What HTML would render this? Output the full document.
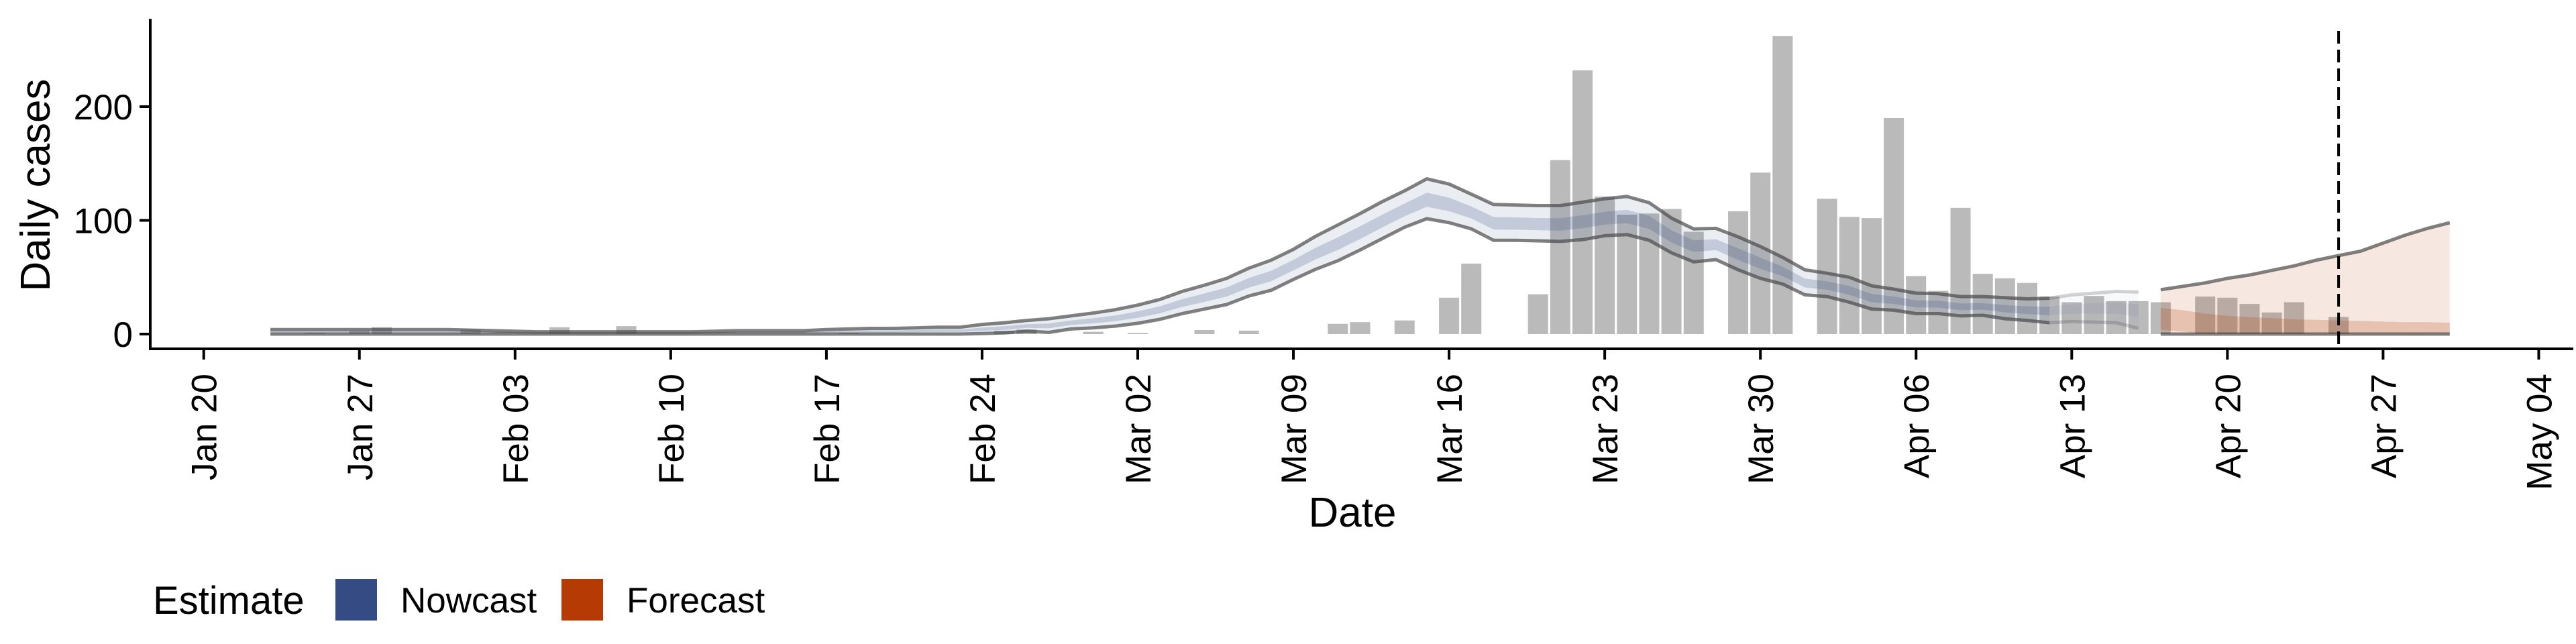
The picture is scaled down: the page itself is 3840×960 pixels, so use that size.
<!DOCTYPE html>
<html><head><meta charset="utf-8"><style>
html,body{margin:0;padding:0;background:#fff;}
svg{display:block;font-family:"Liberation Sans",sans-serif;}
</style></head><body>
<svg id="chart" width="3840" height="960" viewBox="0 0 3840 960" xmlns="http://www.w3.org/2000/svg">
<g id="bars"></g>
<g id="nowcast"></g>
<g id="forecast"></g>
<g id="axes"></g>
<text x="0" y="0" transform="translate(74,276) rotate(-90)" text-anchor="middle" font-size="62">Daily cases</text>
<text x="2016" y="785" text-anchor="middle" font-size="62">Date</text>
<g>
<text x="228" y="915" font-size="58">Estimate</text>
<rect x="500" y="863" width="62" height="62" fill="#344b84"/>
<text x="597" y="913" font-size="53">Nowcast</text>
<rect x="837" y="863" width="62" height="62" fill="#b53a04"/>
<text x="934" y="913" font-size="53">Forecast</text>
</g>
</svg>
<script>
// ---- data ----
const tickLabels = ["Jan 20","Jan 27","Feb 03","Feb 10","Feb 17","Feb 24","Mar 02","Mar 09","Mar 16","Mar 23","Mar 30","Apr 06","Apr 13","Apr 20","Apr 27","May 04"];
const tickDays = [0,7,14,21,28,35,42,49,56,63,70,77,84,91,98,105];
const yTicks = [0,100,200];
// observed cases: day index (since Jan 20) and count
const barDays = [5,7,8,12,16,19,29,36,37,40,42,45,47,51,52,54,56,57,60,61,62,63,64,65,66,67,69,70,71,73,74,75,76,77,78,79,80,81,82,83,84,85,86,87,88,90,91,92,93,94,96];
const barValues = [1,3,6,4,6,7,1,3,4,2,1,3.5,3,9,10.5,12,32,62,35,153,232,121,105,106,110,90,108,142,262,119,103,102,190,51,38,111,53,49,45,33,28,33.5,29,29,28,33,32,26.5,19,28,15];
// nowcast: days 3..87
const nowStart = 3;
const nowUpper = [4,4,4,4,4,4,4,4,4,3.5,3,2.5,2,2,2,2,2,2,2,2,2.5,3,3,3,3,4,4.5,5,5,5.5,6,6,8.5,10,12,13.5,16,18.5,21.5,25.5,30.5,37.5,43,49,58,65,74.5,86,96,106,116.5,126,136.5,132,123,114,113.5,113,113,116,119,121,115.5,102,92.5,93,85.5,77,67.5,56.5,53.5,50,42.5,39.5,36,35.5,33,33,32,31,31.5,34.5,36,37.5,37];
const nowLower = [0,0,0,0,0,0,0,0,0,0,0,0,0,0,0,0,0,0,0,0,0,0,0,0,0,0,0,0,0,0,0,0,0.5,1,2.5,1.5,4.5,5.5,7,9.5,13,18,22,26,33.5,38.5,48,57,64.5,74,84,94,101.5,98,92.5,82.5,82.5,82,81.5,83,86.5,87.5,82.5,71.5,63.5,65.5,56.5,49,44,34.5,33,28,22,21,18,18,16,16.5,13.5,12,10,11,10.5,10,5];
const nowInnerUpper = [2.6,2.6,2.6,2.6,2.6,2.6,2.6,2.6,2.6,2.3,2,1.6,1.3,1.3,1.3,1.3,1.3,1.3,1.3,1.3,1.6,2,2,2,2,2.6,2.9,3.3,3.3,3.6,3.9,3.9,5.7,6.9,8.7,9.3,12,14,16.4,20,24.4,30.7,35.7,41,49.4,55.7,65.2,75.9,85,94.8,105,114.8,124.3,120,112.3,103,102.6,102,102,104.5,107.6,109.3,104,91.3,82.4,83.4,75.4,67.2,59.3,48.8,46.3,42.3,35.3,33,29.7,29.4,27,27.2,25.5,24.4,24,26.3,27,28,26];
const nowInnerLower = [1.2,1.2,1.2,1.2,1.2,1.2,1.2,1.2,1.2,1,0.9,0.8,0.6,0.6,0.6,0.6,0.6,0.6,0.6,0.6,0.8,0.9,0.9,0.9,0.9,1.2,1.4,1.5,1.5,1.7,1.8,1.8,2.9,3.7,5.4,5.1,8,9.4,11.4,14.3,18.3,23.9,28.3,33,40.9,46.5,56,65.7,74,83.6,93.8,103.6,112,108,101.7,92,91.8,91.3,91,93,96.3,97.6,92.4,80.6,72.2,73.8,65.2,57.4,51,41,39,34.6,28,26.5,23.4,23.3,21,21.5,19,17.7,16.5,18,18,18,15];
const nowFadeFrom = 83;
// forecast: days 88..101
const foreStart = 88;
const foreUpper = [39,42,45,49,52,56,60,65,69,73,80,87,93,98];
const foreLower = [0,0,0,0,0,0,0,0,0,0,0,0,0,0];
const foreInnerUpper = [23,21,18,16,15,14,13,12.5,12,11.5,11,10.5,10.5,10];
const foreInnerLower = [4,2,0.5,0,0,0,0,0,0,0,0,0,0,0];
const dataDateDay = 96;

// ---- scales ----
const X0 = 303.7, PX_DAY = 33.15, Y0 = 498, PX_UNIT = 1.695;
const xs = d => X0 + d * PX_DAY;
const ys = v => Y0 - v * PX_UNIT;
const NS = "http://www.w3.org/2000/svg";
function mk(tag, parent, attrs){const e=document.createElementNS(NS,tag);for(const k in attrs)e.setAttribute(k,attrs[k]);parent.appendChild(e);return e;}

// bars
const gB = document.getElementById('bars');
barDays.forEach((d,i)=>{
  const r = mk('rect', gB, {x: xs(d)-15, y: ys(barValues[i]), width: 30, height: barValues[i]*PX_UNIT, fill:'#bababa'});
  
  
});

function bandPath(start, up, lo, from, to){
  let p=''; for(let i=from;i<=to;i++) p += (i===from?'M':'L') + xs(start+i).toFixed(1)+','+ys(up[i]).toFixed(1);
  for(let i=to;i>=from;i--) p += 'L'+xs(start+i).toFixed(1)+','+ys(lo[i]).toFixed(1);
  return p+'Z';
}
function linePath(start, arr, from, to){
  let p=''; for(let i=from;i<=to;i++) p += (i===from?'M':'L') + xs(start+i).toFixed(1)+','+ys(arr[i]).toFixed(1);
  return p;
}

// nowcast
const gN = document.getElementById('nowcast');
const nLast = nowUpper.length-1, nFade = nowFadeFrom - nowStart;
[[0,nFade,1],[nFade,nLast,0.35]].forEach(([a,b,op])=>{
  const o = mk('path', gN, {d: bandPath(nowStart, nowUpper, nowLower, a, b), fill:'#344b84', 'fill-opacity': 0.1*op});
  
  
  const inr = mk('path', gN, {d: bandPath(nowStart, nowInnerUpper, nowInnerLower, a, b), fill:'#344b84', 'fill-opacity': 0.21*op});
  
  
  [nowUpper, nowLower].forEach(arr=>{
    const l = mk('path', gN, {d: linePath(nowStart, arr, a, b), fill:'none', stroke:'#4a4a4a', 'stroke-opacity': 0.7*op, 'stroke-width': 5, 'stroke-linejoin':'round'});
    
    
  });
});

// forecast
const gF = document.getElementById('forecast');
const fLast = foreUpper.length-1;
const fo = mk('path', gF, {d: bandPath(foreStart, foreUpper, foreLower, 0, fLast), fill:'#b53a04', 'fill-opacity': 0.12});


const fi = mk('path', gF, {d: bandPath(foreStart, foreInnerUpper, foreInnerLower, 0, fLast), fill:'#b53a04', 'fill-opacity': 0.21});


[foreUpper, foreLower].forEach(arr=>{
  const l = mk('path', gF, {d: linePath(foreStart, arr, 0, fLast), fill:'none', stroke:'#4a4a4a', 'stroke-opacity': 0.7, 'stroke-width': 5});
  
  
});
const dl = mk('line', gF, {x1: xs(dataDateDay), x2: xs(dataDateDay), y1: 46, y2: 520, stroke:'#000', 'stroke-width': 4, 'stroke-dasharray':'19 9'});



// axes
const gA = document.getElementById('axes');
const ya = mk('line', gA, {x1:224, x2:224, y1:28, y2:522, stroke:'#000', 'stroke-width':4});


const xa = mk('line', gA, {x1:222, x2:3836, y1:520, y2:520, stroke:'#000', 'stroke-width':4});


yTicks.forEach(v=>{
  const t = mk('line', gA, {x1:208, x2:224, y1:ys(v), y2:ys(v), stroke:'#000', 'stroke-width':4});
  
  
  const tx = mk('text', gA, {x:198, y:ys(v)+19, 'text-anchor':'end', 'font-size':53});
  tx.textContent = String(v);
  
  
});
tickDays.forEach((d,i)=>{
  const x = xs(d);
  const t = mk('line', gA, {x1:x, x2:x, y1:520, y2:536, stroke:'#000', 'stroke-width':4});
  
  
  const tx = mk('text', gA, {x:0, y:0, transform:`translate(${(x+19).toFixed(1)},557) rotate(-90)`, 'text-anchor':'end', 'font-size':53});
  tx.textContent = tickLabels[i];
  
  
});
</script>
</body></html>
